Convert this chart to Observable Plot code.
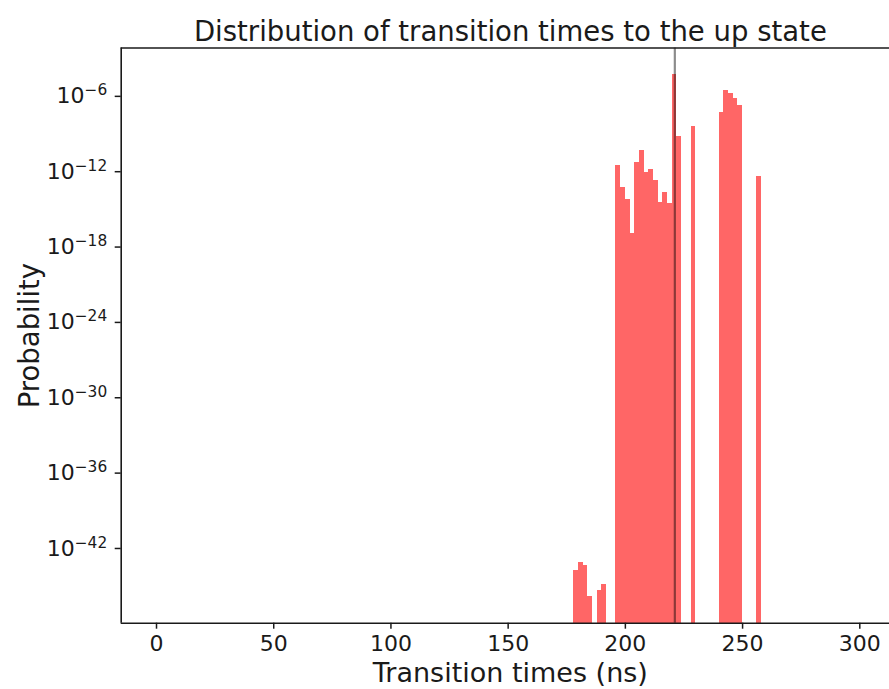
<!DOCTYPE html>
<html>
<head>
<meta charset="utf-8">
<script src="https://cdn.jsdelivr.net/npm/d3@7"></script>
<script src="https://cdn.jsdelivr.net/npm/@observablehq/plot@0.6"></script>
<style>
  html, body { margin: 0; padding: 0; background: #fff; }
  svg { display: block; }
</style>
</head>
<body>
<div id="chart"></div>
<script>
// ---- data ----
const binStart = [178, 180, 182, 184, 188, 190,
                  196, 198, 200, 202, 204, 206, 208, 210, 212, 214, 216, 218, 220, 222,
                  228,
                  240, 242, 244, 246, 248,
                  256];
const probability = [1.9e-44, 7.8e-44, 4.3e-44, 1.4e-46, 4.8e-46, 1.4e-45,
                     3.1e-12, 5.8e-14, 5.8e-15, 1.3e-17, 5.6e-12, 4.8e-11, 8.9e-13, 1.4e-12, 1.9e-13, 3.7e-15, 2.3e-14, 3.1e-15, 6.0e-5, 6.2e-10,
                     3.9e-9,
                     5.4e-8, 2.8e-6, 1.7e-6, 6.2e-7, 1.8e-7,
                     4.1e-13];
const binWidth = 2;
const markedTime = 221.1;               // grey vertical line
const xTicks = [0, 50, 100, 150, 200, 250, 300];
const yTickExponents = [-6, -12, -18, -24, -30, -36, -42];
const titleText = "Distribution of transition times to the up state";
const xLabelText = "Transition times (ns)";
const yLabelText = "Probability";

// ---- build ----
const bins = binStart.map((x, i) => ({x1: x, x2: x + binWidth, p: probability[i]}));
const xDomain = [-15.06, 312.67];
const yDomain = [Math.pow(10, -47.95), Math.pow(10, -2.15)];
const yTicks = yTickExponents.map(e => Math.pow(10, e));
const ink = "#1a1a1a";

const svg = Plot.plot({
  width: 889,
  height: 689,
  marginTop: 47.5,
  marginBottom: 66.3,
  marginLeft: 120.7,
  marginRight: 0,
  style: {fontFamily: "DejaVu Sans", fontSize: "22px", color: ink, background: "#fff"},
  x: {domain: xDomain},
  y: {type: "log", domain: yDomain},
  marks: [
    Plot.rectY(bins, {x1: "x1", x2: "x2", y1: yDomain[0], y2: "p", fill: "#ff6666", shapeRendering: "crispEdges"}),
    Plot.ruleX([markedTime], {stroke: "#000", strokeOpacity: 0.45, strokeWidth: 2.2}),
    Plot.ruleX([xDomain[0]], {stroke: ink, strokeWidth: 1.6}),
    Plot.ruleY([yDomain[0], yDomain[1]], {stroke: ink, strokeWidth: 1.6}),
    Plot.axisX({ticks: xTicks, tickSize: 6, tickPadding: 6, strokeWidth: 1.5, label: null}),
    Plot.axisY({ticks: yTicks, tickSize: 6, tickPadding: 8, strokeWidth: 1.5, label: null,
                tickFormat: d => "10^" + Math.round(Math.log10(d))}),
    Plot.text([titleText], {text: d => d, frameAnchor: "top", textAnchor: "middle", lineAnchor: "middle",
                            dx: 5, dy: -16, fontSize: 27.5, fill: ink}),
    Plot.text([xLabelText], {text: d => d, frameAnchor: "bottom", textAnchor: "middle", lineAnchor: "middle",
                             dx: 5, dy: 50.5, fontSize: 27, fill: ink}),
    Plot.text([yLabelText], {text: d => d, frameAnchor: "left", textAnchor: "middle", lineAnchor: "middle",
                             rotate: -90, dx: -91.5, fontSize: 27.5, fill: ink})
  ]
});

// superscript exponents on the log-axis tick labels
d3.select(svg).selectAll('g[aria-label="y-axis tick label"] text').each(function () {
  const t = d3.select(this);
  const parts = t.text().split("^");
  if (parts.length !== 2) return;
  t.text(parts[0]);
  t.append("tspan").attr("dy", "-8").attr("font-size", 15.4).text(parts[1].replace("-", "\u2212"));
});

document.getElementById("chart").appendChild(svg);
</script>
</body>
</html>
